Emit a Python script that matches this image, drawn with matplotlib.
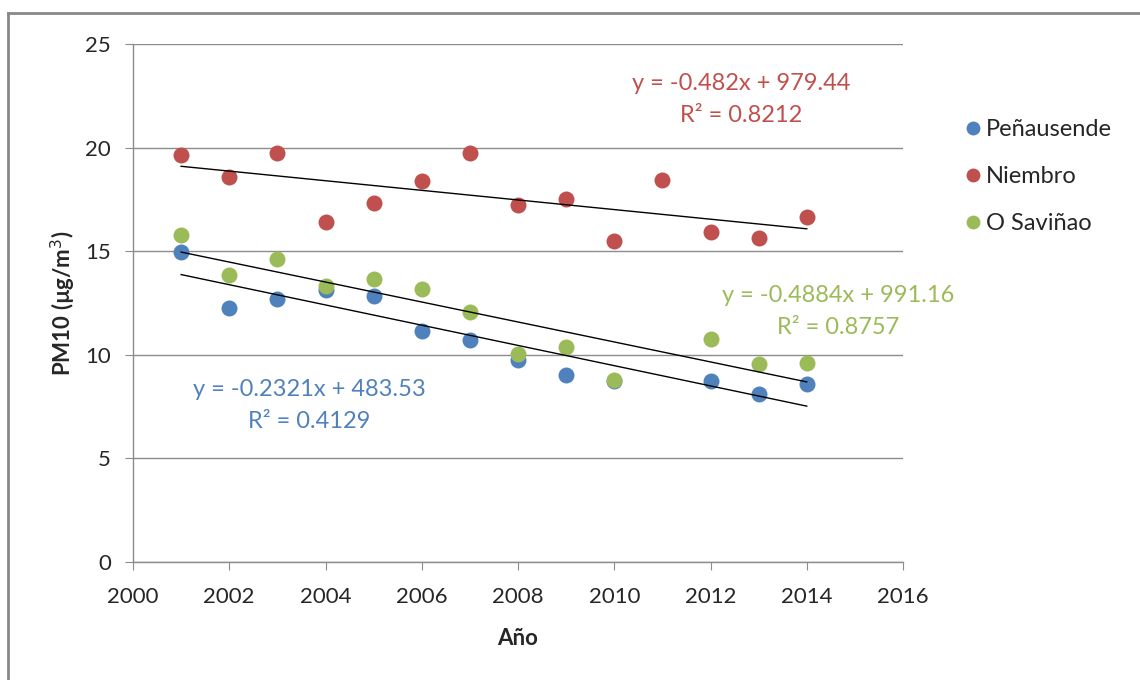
import matplotlib
matplotlib.use("Agg")
import matplotlib.pyplot as plt
from matplotlib.lines import Line2D
import numpy as np

plt.rcParams['font.family'] = ['Lato', 'DejaVu Sans']

# ---- data ----
years_pen = [2001, 2002, 2003, 2004, 2005, 2006, 2007, 2008, 2009, 2010, 2012, 2013, 2014]
pen = [14.97, 12.26, 12.67, 13.15, 12.83, 11.17, 10.73, 9.75, 9.04, 8.72, 8.75, 8.10, 8.61]

years_nie = [2001, 2002, 2003, 2004, 2005, 2006, 2007, 2008, 2009, 2010, 2011, 2012, 2013, 2014]
nie = [19.65, 18.58, 19.76, 16.42, 17.34, 18.39, 19.76, 17.21, 17.52, 15.47, 18.45, 15.91, 15.65, 16.65]

years_sav = [2001, 2002, 2003, 2004, 2005, 2006, 2007, 2008, 2009, 2010, 2012, 2013, 2014]
sav = [15.78, 13.84, 14.60, 13.31, 13.67, 13.18, 12.06, 10.06, 10.36, 8.80, 10.78, 9.56, 9.62]

# trend line coefficients (slope, intercept) as shown on chart
trend_pen = (-0.4884, 991.16)
trend_nie = (-0.2321, 483.53)
trend_sav = (-0.482, 979.44)
trend_x = [2001, 2014]

labels = ["Peñausende", "Niembro", "O Saviñao"]
eq_texts = [("y = -0.2321x + 483.53", "R² = 0.4129"),
            ("y = -0.482x + 979.44", "R² = 0.8212"),
            ("y = -0.4884x + 991.16", "R² = 0.8757")]

c_blue = "#4F81BD"
c_red = "#C0504D"
c_green = "#9BBB59"
c_text = "#262626"

fig = plt.figure(figsize=(11.4, 6.8), dpi=100)
ax = fig.add_axes([133/1140, 1-562/680, (903-133)/1140, (562-44)/680])

ms = 11.5
ax.plot(years_pen, pen, 'o', color=c_blue, ms=ms, mec='none', zorder=3)
ax.plot(years_nie, nie, 'o', color=c_red, ms=ms, mec='none', zorder=3)
ax.plot(years_sav, sav, 'o', color=c_green, ms=ms, mec='none', zorder=3)

tx = np.array(trend_x, dtype=float)
for m, b in (trend_pen, trend_nie, trend_sav):
    ax.plot(tx, m*tx + b, color='black', lw=1.0, zorder=4)

ax.set_xlim(2000, 2016)
ax.set_ylim(0, 25)
ax.set_xticks(range(2000, 2017, 2))
ax.set_yticks(range(0, 26, 5))
ax.grid(axis='y', color='#8c8c8c', lw=1.0)
ax.set_axisbelow(True)
for s in ('top', 'right'):
    ax.spines[s].set_visible(False)
for s in ('left', 'bottom'):
    ax.spines[s].set_color('#8c8c8c')
    ax.spines[s].set_linewidth(1.0)
ax.tick_params(axis='both', direction='out', length=6, color='#8c8c8c',
               labelsize=16, labelcolor=c_text)
ax.tick_params(axis='x', pad=12)
ax.tick_params(axis='y', pad=10)

ax.set_xlabel("Año", fontsize=16, fontweight='bold', labelpad=15, color=c_text)
ax.set_ylabel("PM10 (µg/m$^3$)", fontsize=16, fontweight='bold', labelpad=5, color=c_text)

# equation labels (pixel positions converted to axes coords)
def px(xp, yp):
    return ((xp-133)/(903-133), (562-yp)/(562-44))

fs_eq = 17
x0, y0 = px(309, 389); ax.text(x0, y0, eq_texts[0][0], transform=ax.transAxes, color=c_blue, fontsize=fs_eq, ha='center', va='center')
x0, y0 = px(309, 421); ax.text(x0, y0, eq_texts[0][1], transform=ax.transAxes, color=c_blue, fontsize=fs_eq, ha='center', va='center')
x0, y0 = px(741, 84); ax.text(x0, y0, eq_texts[1][0], transform=ax.transAxes, color=c_red, fontsize=fs_eq, ha='center', va='center')
x0, y0 = px(741, 116); ax.text(x0, y0, eq_texts[1][1], transform=ax.transAxes, color=c_red, fontsize=fs_eq, ha='center', va='center')
x0, y0 = px(838, 296); ax.text(x0, y0, eq_texts[2][0], transform=ax.transAxes, color=c_green, fontsize=fs_eq, ha='center', va='center', clip_on=False)
x0, y0 = px(838, 327); ax.text(x0, y0, eq_texts[2][1], transform=ax.transAxes, color=c_green, fontsize=fs_eq, ha='center', va='center', clip_on=False)

handles = [Line2D([], [], marker='o', ls='none', color=c, ms=10, mec='none') for c in (c_blue, c_red, c_green)]
fig.legend(handles, labels, loc='upper left', bbox_to_anchor=(952/1140, 1-110/680),
           frameon=False, fontsize=17, handletextpad=0.05, labelspacing=1.1,
           handlelength=1.0, borderaxespad=0, labelcolor=c_text)

# chart border (top and left visible)
fig.add_artist(Line2D([8/1140, 1], [1-13/680, 1-13/680], color='#888888', lw=2, transform=fig.transFigure))
fig.add_artist(Line2D([8/1140, 8/1140], [0, 1-13/680], color='#888888', lw=2, transform=fig.transFigure))

fig.savefig("out.png", dpi=100)
